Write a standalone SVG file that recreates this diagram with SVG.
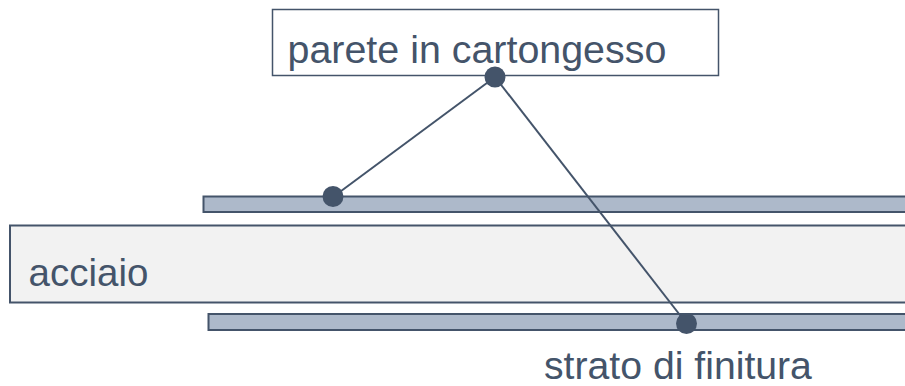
<svg xmlns="http://www.w3.org/2000/svg" width="905" height="386" viewBox="0 0 905 386">
<style>
.t{font-family:"Liberation Sans",Arial,sans-serif;font-size:38.5px;fill:#44546a}
.bar{fill:#adb9ca;stroke:#44546a;stroke-width:2}
.ln{stroke:#44546a;stroke-width:2;fill:none}
.dot{fill:#44546a}
</style>
<g id="strato-superiore"><rect class="bar" x="203.5" y="196.5" width="705" height="15.5"/></g>
<g id="acciaio"><rect x="10" y="225.5" width="900" height="77" fill="#f2f2f2" stroke="#44546a" stroke-width="2"/><text class="t" x="28.5" y="286">acciaio</text></g>
<g id="strato-finitura"><rect class="bar" x="208.5" y="314" width="700" height="16"/></g>
<g id="label-parete"><rect x="272.5" y="9.5" width="446" height="66" fill="#fff" stroke="#44546a" stroke-width="1.5"/><text class="t" x="287.5" y="63" style="font-size:39.4px">parete in cartongesso</text></g>
<g id="label-finitura"><text class="t" x="544" y="379" style="font-size:39.2px">strato di finitura</text></g>
<g id="connectors">
<line class="ln" x1="495" y1="77" x2="333" y2="197"/>
<line class="ln" x1="495" y1="77" x2="686.5" y2="323.5"/>
<circle class="dot" cx="495" cy="77" r="10.5"/>
<circle class="dot" cx="333" cy="196.5" r="10.5"/>
<circle class="dot" cx="686.5" cy="323.5" r="10.5"/>
</g>
</svg>
